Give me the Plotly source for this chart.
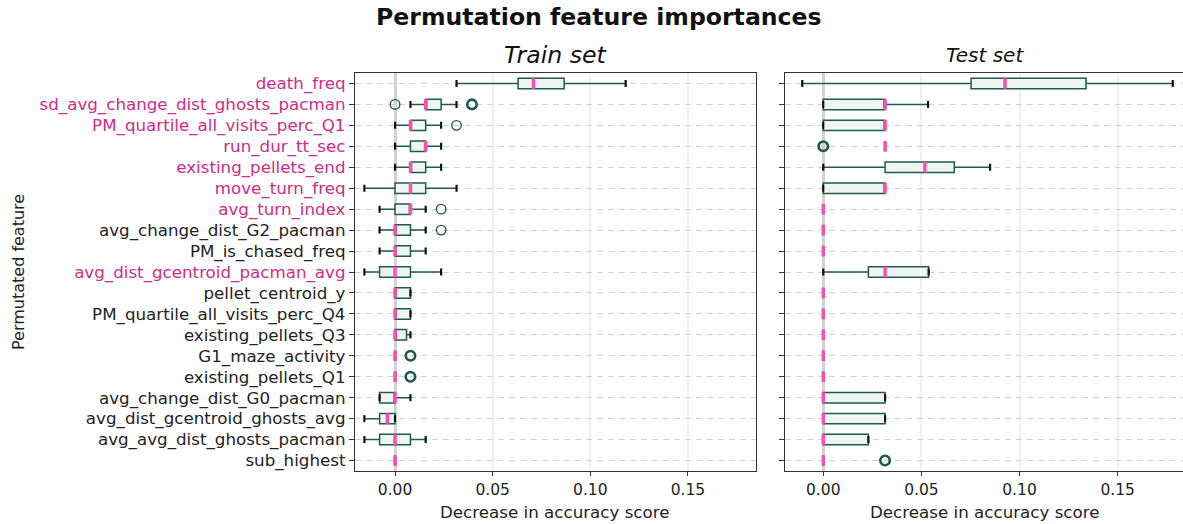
import plotly.graph_objects as go
from collections import Counter

# Features, top to bottom
features = [
    "death_freq", "sd_avg_change_dist_ghosts_pacman", "PM_quartile_all_visits_perc_Q1",
    "run_dur_tt_sec", "existing_pellets_end", "move_turn_freq", "avg_turn_index",
    "avg_change_dist_G2_pacman", "PM_is_chased_freq", "avg_dist_gcentroid_pacman_avg",
    "pellet_centroid_y", "PM_quartile_all_visits_perc_Q4", "existing_pellets_Q3",
    "G1_maze_activity", "existing_pellets_Q1", "avg_change_dist_G0_pacman",
    "avg_dist_gcentroid_ghosts_avg", "avg_avg_dist_ghosts_pacman", "sub_highest",
]
highlighted = [
    "death_freq", "sd_avg_change_dist_ghosts_pacman", "PM_quartile_all_visits_perc_Q1",
    "run_dur_tt_sec", "existing_pellets_end", "move_turn_freq", "avg_turn_index",
    "avg_dist_gcentroid_pacman_avg",
]

# Train set box statistics
train_low = [0.0315, 0.0079, 0.0, 0.0, 0.0, -0.0157, -0.0079, -0.0079, -0.0079, -0.0157,
             0.0, 0.0, 0.0, 0.0, 0.0, -0.0079, -0.0157, -0.0157, 0.0]
train_q1 = [0.0630, 0.0157, 0.0079, 0.0079, 0.0079, 0.0, 0.0, 0.0, 0.0, -0.0079,
            0.0, 0.0, 0.0, 0.0, 0.0, -0.0079, -0.0079, -0.0079, 0.0]
train_med = [0.0709, 0.0157, 0.0079, 0.0157, 0.0079, 0.0079, 0.0079, 0.0, 0.0, 0.0,
             0.0, 0.0, 0.0, 0.0, 0.0, 0.0, -0.0039, 0.0, 0.0]
train_q3 = [0.0866, 0.0236, 0.0157, 0.0157, 0.0157, 0.0157, 0.0079, 0.0079, 0.0079, 0.0079,
            0.0079, 0.0079, 0.0059, 0.0, 0.0, 0.0, 0.0, 0.0079, 0.0]
train_high = [0.1181, 0.0315, 0.0236, 0.0236, 0.0236, 0.0315, 0.0157, 0.0157, 0.0157, 0.0236,
              0.0079, 0.0079, 0.0079, 0.0, 0.0, 0.0079, 0.0, 0.0157, 0.0]
train_out_rows = [1, 1, 1, 2, 6, 7, 13, 13, 14, 14]
train_out_vals = [0.0, 0.0394, 0.0394, 0.0315, 0.0236, 0.0236, 0.0079, 0.0079, 0.0079, 0.0079]

# Test set box statistics
test_low = [-0.0107, 0.0, 0.0, 0.0315, 0.0, 0.0, 0.0, 0.0, 0.0, 0.0,
            0.0, 0.0, 0.0, 0.0, 0.0, 0.0, 0.0, 0.0, 0.0]
test_q1 = [0.0753, 0.0, 0.0, 0.0315, 0.0315, 0.0, 0.0, 0.0, 0.0, 0.0230,
           0.0, 0.0, 0.0, 0.0, 0.0, 0.0, 0.0, 0.0, 0.0]
test_med = [0.0926, 0.0315, 0.0315, 0.0315, 0.0518, 0.0315, 0.0, 0.0, 0.0, 0.0315,
            0.0, 0.0, 0.0, 0.0, 0.0, 0.0, 0.0, 0.0, 0.0]
test_q3 = [0.1339, 0.0315, 0.0315, 0.0315, 0.0668, 0.0315, 0.0, 0.0, 0.0, 0.0537,
           0.0, 0.0, 0.0, 0.0, 0.0, 0.0315, 0.0315, 0.0230, 0.0]
test_high = [0.1781, 0.0534, 0.0315, 0.0315, 0.0850, 0.0315, 0.0, 0.0, 0.0, 0.0537,
             0.0, 0.0, 0.0, 0.0, 0.0, 0.0315, 0.0315, 0.0230, 0.0]
test_out_rows = [3, 3, 18, 18]
test_out_vals = [0.0, 0.0, 0.0315, 0.0315]

x_ticks = [0.0, 0.05, 0.10, 0.15]
x_tick_text = ["0.00", "0.05", "0.10", "0.15"]

BOX_LINE = "#1e5b4c"
BOX_FILL = "#edf6f1"
MEDIAN = "#ff4fae"
LABEL_PINK = "#cf2b87"
FONT = "DejaVu Sans"

pos = list(range(len(features)))
fig = go.Figure()


def add_panel(low, q1, med, q3, high, out_rows, out_vals, xa, ya):
    fig.add_trace(go.Box(
        orientation="h", y=pos, q1=q1, median=med, q3=q3,
        lowerfence=low, upperfence=high, width=0.5, whiskerwidth=0,
        fillcolor=BOX_FILL, line=dict(color=BOX_LINE, width=1.5),
        boxpoints=False, xaxis=xa, yaxis=ya, hoverinfo="skip",
    ))
    # whisker caps
    fig.add_trace(go.Scatter(
        x=low + high, y=pos + pos, mode="markers", xaxis=xa, yaxis=ya,
        marker=dict(symbol="line-ns", size=5, line=dict(width=2.2, color="#111111")),
        hoverinfo="skip",
    ))
    # medians
    fig.add_trace(go.Scatter(
        x=med, y=pos, mode="markers", xaxis=xa, yaxis=ya,
        marker=dict(symbol="line-ns", size=7.5, line=dict(width=3.5, color=MEDIAN)),
        hoverinfo="skip",
    ))
    # outliers (repeated values drawn heavier)
    counts = Counter(zip(out_rows, out_vals))
    ox = [v for (r, v) in counts]
    oy = [r for (r, v) in counts]
    ow = [1.4 + 1.2 * (c - 1) for c in counts.values()]
    fig.add_trace(go.Scatter(
        x=ox, y=oy, mode="markers", xaxis=xa, yaxis=ya,
        marker=dict(symbol="circle-open", size=9.5, color=BOX_LINE,
                    line=dict(width=ow, color=BOX_LINE)),
        hoverinfo="skip",
    ))


add_panel(train_low, train_q1, train_med, train_q3, train_high,
          train_out_rows, train_out_vals, "x", "y")
add_panel(test_low, test_q1, test_med, test_q3, test_high,
          test_out_rows, test_out_vals, "x2", "y2")

tick_labels = [
    f'<span style="color:{LABEL_PINK}">{f}</span>' if f in highlighted else f
    for f in features
]

xcommon = dict(
    tickvals=x_ticks, ticktext=x_tick_text, showgrid=True, gridcolor="#f0f0f0",
    gridwidth=1.5, zeroline=True, zerolinecolor="#d2d2d2", zerolinewidth=2.5,
    showline=True, linecolor="#333333", linewidth=1.3, mirror=True,
    ticks="outside", ticklen=4, tickcolor="#333333",
    tickfont=dict(family=FONT, size=15.5, color="#222222"),
)
ycommon = dict(
    tickvals=pos, range=[18.5, -0.5], showgrid=True, gridcolor="#d2d2d2",
    gridwidth=1, griddash="6px,5px", zeroline=False,
    showline=True, linecolor="#333333", linewidth=1.3,
    ticks="outside", ticklen=5, tickcolor="#333333",
)

fig.update_layout(
    width=1183, height=524,
    margin=dict(l=355, r=0, t=73, b=53),
    paper_bgcolor="white", plot_bgcolor="white",
    showlegend=False,
    font=dict(family=FONT, color="#222222"),
    xaxis=dict(domain=[0, 0.4837], range=[-0.0205, 0.1846], **xcommon),
    xaxis2=dict(domain=[0.5193, 1.0], range=[-0.0195, 0.1833], **xcommon),
    yaxis=dict(anchor="x", ticktext=tick_labels, mirror=True,
               tickfont=dict(family=FONT, size=16.7, color="#222222"), **ycommon),
    yaxis2=dict(anchor="x2", showticklabels=False, mirror=False, **ycommon),
)

annotations = [
    dict(text="<b>Permutation feature importances</b>", x=599, y=1.1407,
         font=dict(size=23.6, family=FONT, color="#111111")),
    dict(text="<i>Train set</i>", x=555, y=1.045, font=dict(size=23.6, family=FONT, color="#111111")),
    dict(text="<i>Test set</i>", x=985, y=1.045, font=dict(size=20, family=FONT, color="#111111")),
    dict(text="Decrease in accuracy score", x=555, y=-0.103, font=dict(size=16.7, family=FONT, color="#222222")),
    dict(text="Decrease in accuracy score", x=985, y=-0.103, font=dict(size=16.7, family=FONT, color="#222222")),
    dict(text="Permutated feature", x=18, y=0.5, textangle=-90, font=dict(size=16, family=FONT, color="#222222")),
]
for a in annotations:
    fig.add_annotation(
        text=a["text"], x=(a["x"] - 355) / 828, y=a["y"], xref="paper", yref="paper",
        xanchor="center", yanchor="middle", showarrow=False, font=a["font"],
        textangle=a.get("textangle", 0),
    )

fig.write_html("out.html")
